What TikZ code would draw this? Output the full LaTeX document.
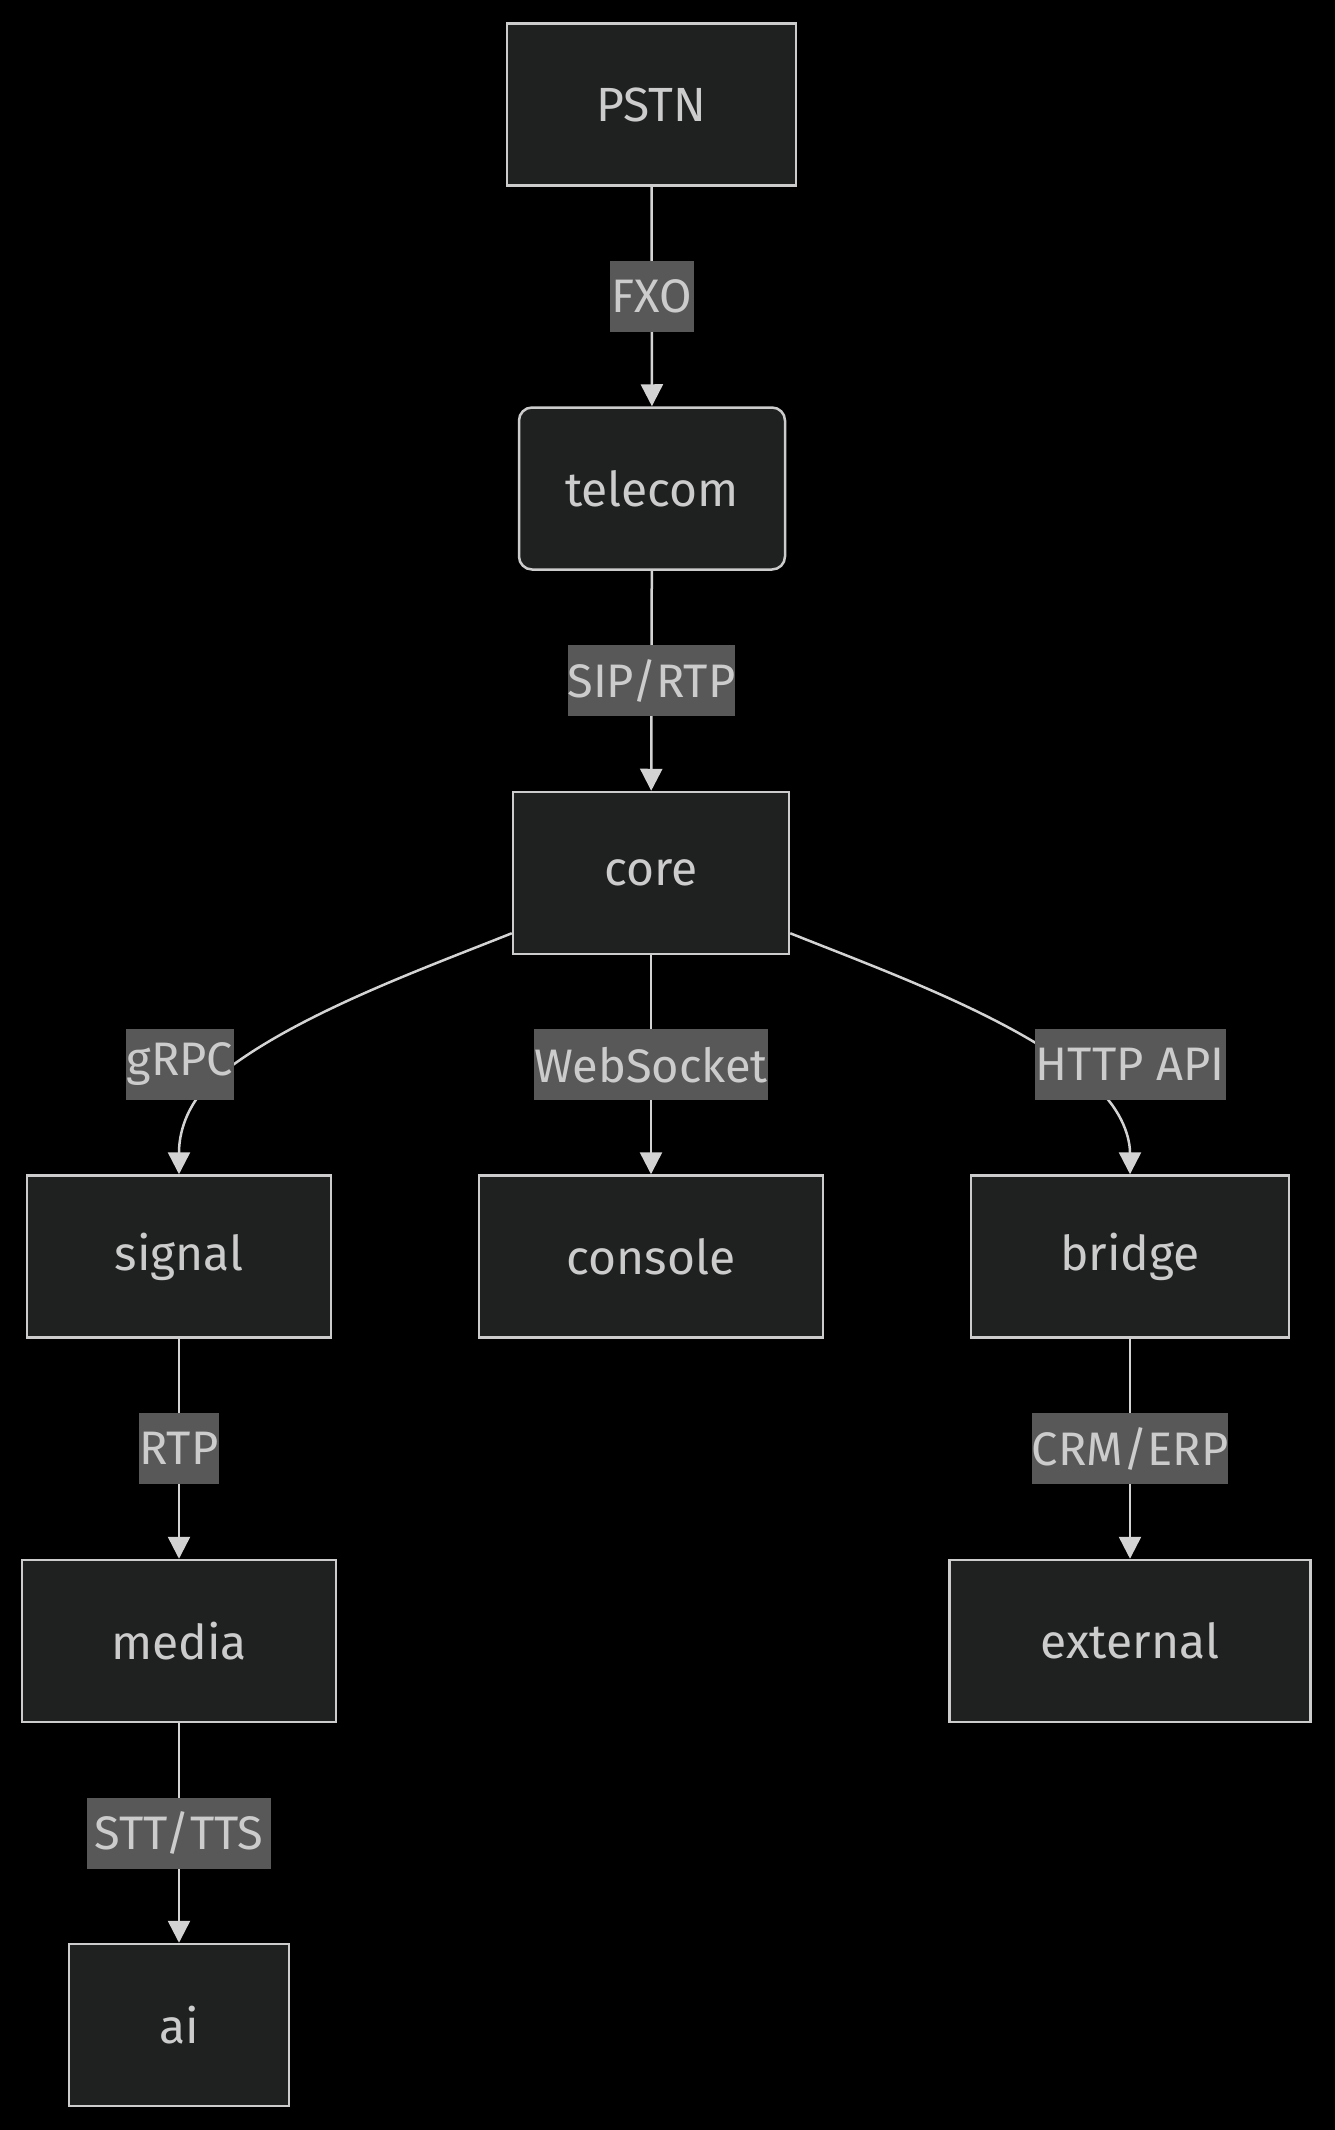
\documentclass[tikz,border=0pt]{standalone}
\usepackage{fontspec}
\setmainfont{Fira Sans}
\usetikzlibrary{arrows.meta,calc}
\definecolor{bgc}{HTML}{000000}
\definecolor{nodefill}{HTML}{1F2020}
\definecolor{nodeline}{HTML}{CCCCCC}
\definecolor{txt}{HTML}{CCCCCC}
\definecolor{lblbg}{HTML}{585858}
\definecolor{edgec}{HTML}{D3D3D3}
\begin{document}
\begin{tikzpicture}[x=1pt,y=-1pt,
  box/.style={draw=nodeline, fill=nodefill, line width=2.5pt, minimum height=162pt,
    inner sep=0pt, text=txt, font=\fontsize{48}{58}\selectfont},
  lbl/.style={fill=lblbg, inner sep=0pt, minimum height=71pt, text=txt,
    font=\fontsize{47}{57}\selectfont},
  edge/.style={draw=edgec, line width=2.5pt, -{Triangle[length=22pt,width=22pt]}}
]
\useasboundingbox (0,0) rectangle (1334,2130);
\fill[bgc] (-2,-2) rectangle (1336,2132);

\node[box, minimum width=289pt] (pstn) at (651.5,104.5) {PSTN};
\node[box, minimum width=266pt, rounded corners=13pt] (telecom) at (652,488.5) {telecom};
\node[box, minimum width=276pt] (core) at (651,873) {core};
\node[box, minimum width=304pt] (signal) at (179,1256.5) {signal};
\node[box, minimum width=344pt] (console) at (651,1256.5) {console};
\node[box, minimum width=318pt] (bridge) at (1130,1256.5) {bridge};
\node[box, minimum width=314pt] (media) at (179,1641) {media};
\node[box, minimum width=361pt] (external) at (1130,1641) {external};
\node[box, minimum width=220pt] (ai) at (179,2025) {ai};

\draw[edge] (pstn) -- node[lbl, minimum width=84pt] (lfxo) {FXO} (telecom);
\draw[edge] (telecom) -- node[lbl, minimum width=167pt] (lsip) {SIP/RTP} (core);
\draw[edge] (core) -- node[lbl, minimum width=234pt] (lws) {WebSocket} (console);
\draw[edge] (signal) -- node[lbl, minimum width=80pt] (lrtp) {RTP} (media);
\draw[edge] (media) -- node[lbl, minimum width=184pt] (lstt) {STT/TTS} (ai);
\draw[edge] (bridge) -- node[lbl, minimum width=195pt] (lcrm) {CRM/ERP} (external);

\coordinate (cl) at ($(core.south west)+(0,-22)$);
\coordinate (cr) at ($(core.south east)+(0,-22)$);
\draw[edge] (cl) .. controls (420,970) and (280,1020) .. (208,1085)
  .. controls (182,1112) and (179,1140) .. (signal.north);
\draw[edge] (cr) .. controls (882,970) and (1022,1020) .. (1094,1085)
  .. controls (1124,1112) and (1130,1140) .. (bridge.north);
\node[lbl, minimum width=108pt] (lgrpc) at (180,1064) {gRPC};
\node[lbl, minimum width=191pt] (lhttp) at (1130,1064) {HTTP API};
\end{tikzpicture}
\end{document}
